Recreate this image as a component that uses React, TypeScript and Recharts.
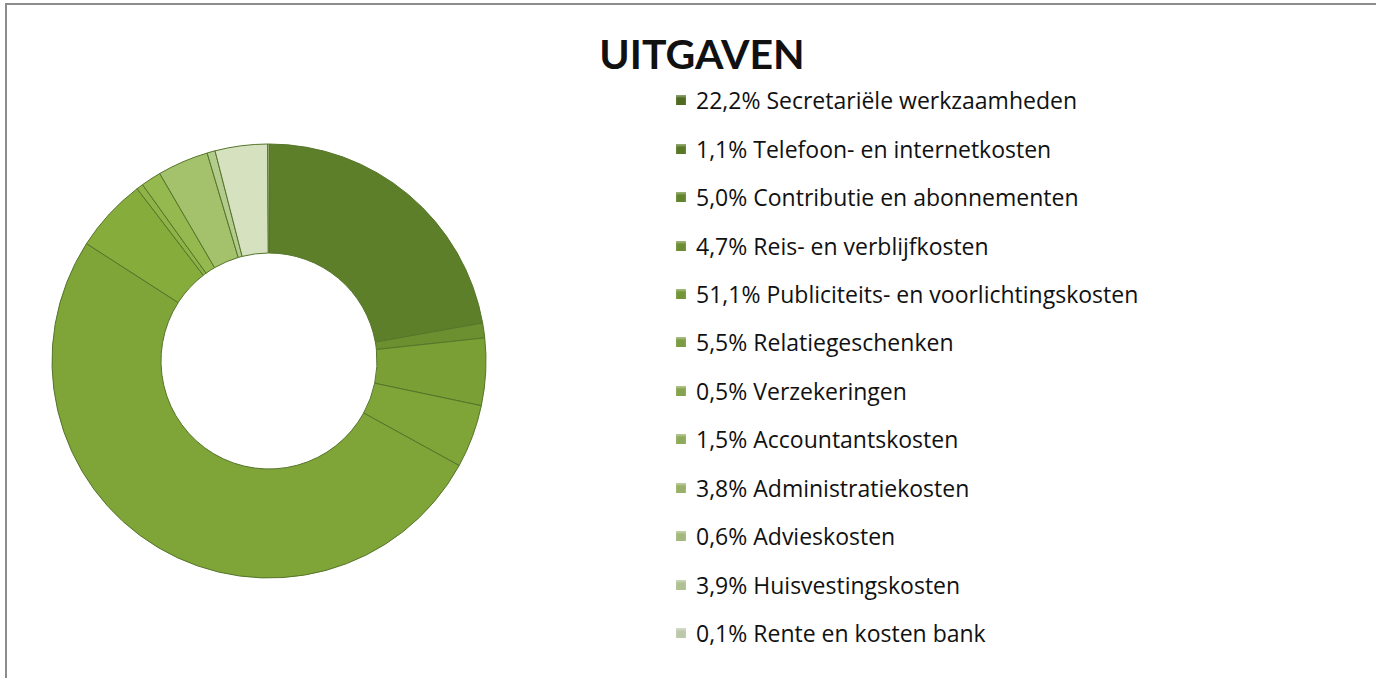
import React from 'react'
import { PieChart, Pie, Cell, Legend } from 'recharts'

const categories = [
  'Secretariële werkzaamheden',
  'Telefoon- en internetkosten',
  'Contributie en abonnementen',
  'Reis- en verblijfkosten',
  'Publiciteits- en voorlichtingskosten',
  'Relatiegeschenken',
  'Verzekeringen',
  'Accountantskosten',
  'Administratiekosten',
  'Advieskosten',
  'Huisvestingskosten',
  'Rente en kosten bank',
]

const percentages = [22.2, 1.1, 5.0, 4.7, 51.1, 5.5, 0.5, 1.5, 3.8, 0.6, 3.9, 0.1]

const sliceColors = [
  '#5e7f2a', '#6c902f', '#7a9f34', '#7fa437', '#7fa438', '#86ac3c',
  '#8fb347', '#96b94f', '#a3c26b', '#b3cb8c', '#d6e2bf', '#e4ebd6',
]

const legendColors = [
  '#4f6b1f', '#587826', '#62842c', '#6a8d32', '#729637', '#7b9c42',
  '#85a34e', '#8eaa5b', '#98b069', '#a3b87c', '#afc092', '#bcc8ab',
]

const data = categories.map((name, i) => ({ name, value: percentages[i] }))

const fmt = (v: number) => v.toFixed(1).replace('.', ',') + '%'

const LegendList = () => (
  <div style={{ fontFamily: '"Open Sans", sans-serif', fontSize: 23, color: '#111' }}>
    {data.map((d, i) => (
      <div key={d.name} style={{ height: 48.45, display: 'flex', alignItems: 'center' }}>
        <span
          style={{
            display: 'inline-block', width: 10, height: 10, marginRight: 10,
            background: legendColors[i], boxShadow: 'inset 0 2px 2px rgba(255,255,255,0.35)',
          }}
        />
        <span>{fmt(d.value)} {d.name}</span>
      </div>
    ))}
  </div>
)

export default function App() {
  return (
    <div style={{ position: 'absolute', left: 0, top: 0, width: 1376, height: 678, background: '#fff', overflow: 'hidden' }}>
      <div
        style={{
          position: 'absolute', left: 5, top: 3, width: 1400, height: 700,
          borderTop: '2px solid #8c8c8c', borderLeft: '2px solid #8c8c8c',
        }}
      />
      <div
        style={{
          position: 'absolute', left: 0, top: 29, width: 1404, textAlign: 'center',
          fontFamily: 'Lato, "Open Sans", sans-serif', fontWeight: 'bold', fontSize: 41, color: '#111',
        }}
      >
        UITGAVEN
      </div>
      <div style={{ position: 'absolute', left: 0, top: 0 }}>
        <PieChart width={1376} height={678}>
          <Pie
            data={data}
            dataKey="value"
            nameKey="name"
            cx={264}
            cy={356}
            innerRadius={108}
            outerRadius={217}
            startAngle={90}
            endAngle={-270}
            stroke="#55752a"
            strokeWidth={1}
            isAnimationActive={false}
          >
            {data.map((d, i) => (
              <Cell key={d.name} fill={sliceColors[i]} />
            ))}
          </Pie>
          <Legend
            content={() => <LegendList />}
            wrapperStyle={{ position: 'absolute', left: 676, top: 76, width: 620 }}
          />
        </PieChart>
      </div>
    </div>
  )
}
